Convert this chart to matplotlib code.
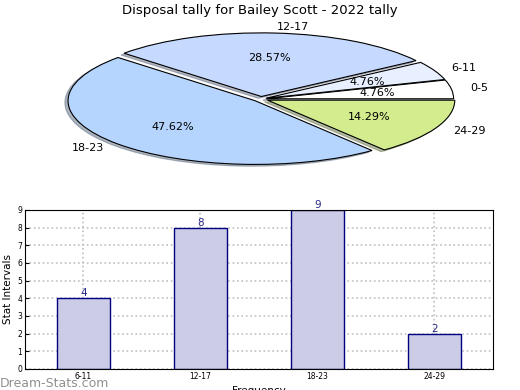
import numpy as np
import matplotlib
matplotlib.use("Agg")
import matplotlib.pyplot as plt

# pie data (counts)
pie_labels = ["0-5", "6-11", "12-17", "18-23", "24-29"]
pie_counts = [1, 1, 6, 10, 3]
pie_colors = ["#ffffff", "#e8f0ff", "#c6d9ff", "#b5d5ff", "#d2ec8e"]

# bar data
bar_labels = ["6-11", "12-17", "18-23", "24-29"]
bar_counts = [4, 8, 9, 2]

fig = plt.figure(figsize=(5.2, 3.9), dpi=100)

# pie on top, squashed to an ellipse
ax1 = fig.add_axes([0.091, 0.56, 0.821, 0.372])
wedges, texts, autotexts = ax1.pie(
    pie_counts, labels=pie_labels, colors=pie_colors,
    explode=[0.03, 0.03, 0.04, 0.04, 0.04], autopct="%.2f%%",
    shadow=dict(ox=-0.012, oy=-0.02, shade=0.5),
    startangle=0, wedgeprops=dict(edgecolor="black", linewidth=0.8),
    textprops=dict(fontsize=8))
ax1.set_aspect("auto")
ax1.set_xlim(-1.14, 1.14)
ax1.set_ylim(-1.14, 1.14)
ax1.axis("off")
fig.text(0.5, 0.99, "Disposal tally for Bailey Scott - 2022 tally",
         ha="center", va="top", fontsize=9.5)

# bar chart below
ax2 = fig.add_axes([0.048, 0.054, 0.9, 0.408])
x = np.arange(len(bar_labels))
ax2.bar(x, bar_counts, width=0.45, color="#ccccE6", edgecolor="navy",
        linewidth=1, zorder=2)
for xi, v in zip(x, bar_counts):
    ax2.text(xi, v, str(v), ha="center", va="bottom", fontsize=7.5,
             color="#2a2a8a", clip_on=False)
ax2.set_xlim(-0.5, 3.5)
ax2.set_ylim(0, 9)
ax2.set_yticks(range(10))
ax2.set_xticks(x)
ax2.set_xticklabels(bar_labels)
ax2.tick_params(labelsize=5.5, direction="in", length=3, pad=2)
ax2.grid(True, linestyle=":", color="#c0c0c0", linewidth=1.2, zorder=2.2)
ax2.set_ylabel("Stat Intervals", fontsize=7.5, labelpad=3)
ax2.set_xlabel("Frequency", fontsize=7.5, labelpad=4)

fig.text(0.0, 0.0, "Dream-Stats.com", fontsize=9, color="#909090",
         ha="left", va="bottom")

fig.savefig("out.png", dpi=100)
